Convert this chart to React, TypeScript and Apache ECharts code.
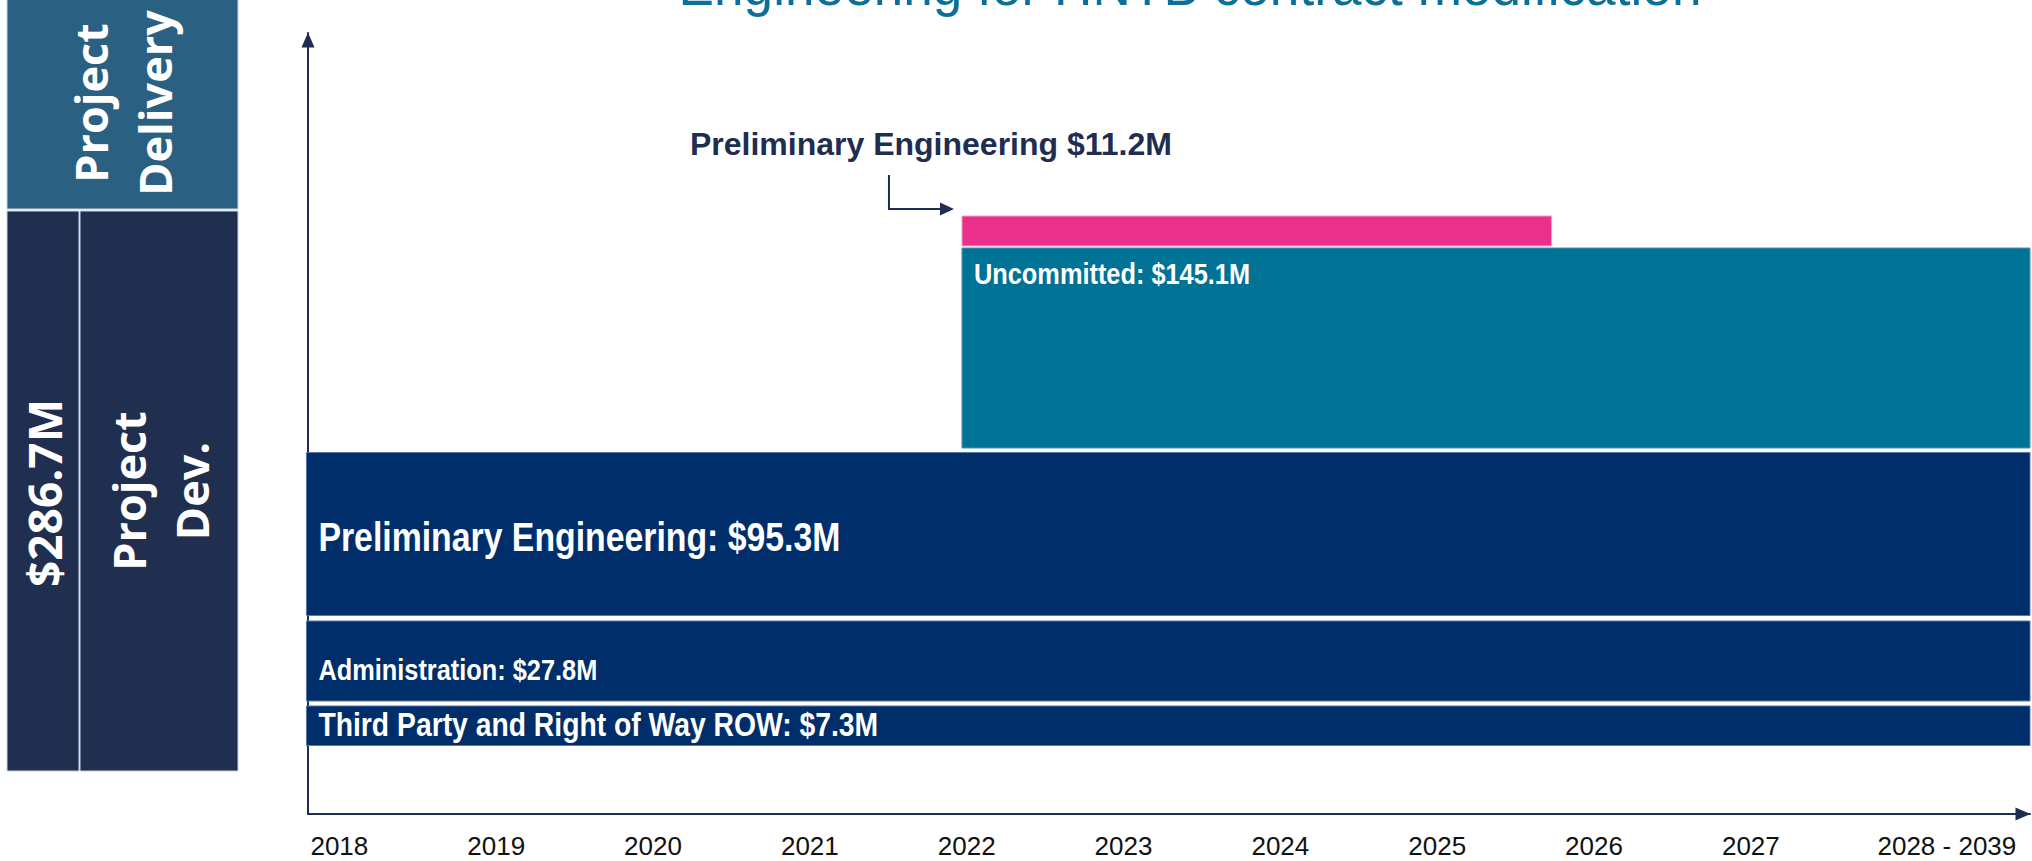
import React, { useEffect, useRef } from "react";
import * as echarts from "echarts";

// ---- Data ----
const yearLabels = ["2018", "2019", "2020", "2021", "2022", "2023", "2024", "2025", "2026", "2027", "2028 - 2039"];
const yearLabelValues = [2018, 2019, 2020, 2021, 2022, 2023, 2024, 2025, 2026, 2027, 2028.25];

const barNames = [
  "Third Party and Right of Way ROW",
  "Administration",
  "Preliminary Engineering",
  "Uncommitted",
  "Preliminary Engineering",
];
const barAmounts = [7.3, 27.8, 95.3, 145.1, 11.2]; // $M
const barStartYear = [2017.79, 2017.79, 2017.79, 2021.97, 2021.97];
const barEndYear = [2028.78, 2028.78, 2028.78, 2028.78, 2025.73];
const barLaneLow = [8.77, 14.47, 25.42, 46.86, 72.73];
const barLaneHigh = [13.83, 24.71, 46.29, 72.47, 76.57];

// ---- Styles ----
const barColors = ["#002e6b", "#002e6b", "#002e6b", "#007296", "#e9318c"];
const barStrokes = ["#5a77a6", "#5a77a6", "#5a77a6", "#4d97b4", "#f3a6c9"];
const labelStyles: any[] = [
  { size: 33.5, mode: "center", dy: -1 },
  { size: 30, mode: "center", dy: 8.5 },
  { size: 40, mode: "center", dy: 2.5 },
  { size: 30, mode: "top", dy: 26 },
  { size: 32, mode: "annotation", dy: 0 },
];
const NAVY = "#1f2d50";
const NARROW = 0.845;

export default function App() {
  const ref = useRef<HTMLDivElement>(null);

  useEffect(() => {
    if (!ref.current) return;
    const chart = echarts.init(ref.current, null, { renderer: "svg" });

    const data = barNames.map((_, i) => [barStartYear[i], barEndYear[i], barLaneLow[i], barLaneHigh[i]]);

    const renderItem = (params: any, api: any) => {
      const i = params.dataIndex;
      const tl = api.coord([api.value(0), api.value(3)]);
      const br = api.coord([api.value(1), api.value(2)]);
      const x = tl[0];
      const y = tl[1];
      const w = br[0] - tl[0];
      const h = br[1] - tl[1];
      const children: any[] = [
        {
          type: "rect",
          shape: { x, y, width: w, height: h },
          style: { fill: barColors[i], stroke: barStrokes[i], lineWidth: 1 },
        },
      ];
      const ls = labelStyles[i];
      if (ls.mode === "annotation") {
        children.push({
          type: "text",
          x: x - 272,
          y: y - 72,
          style: {
            text: `${barNames[i]} $${barAmounts[i]}M`,
            fill: NAVY,
            font: `bold ${ls.size}px "Liberation Sans", Arial, sans-serif`,
            align: "left",
            verticalAlign: "middle",
          },
        });
        children.push({
          type: "polyline",
          shape: { points: [[x - 73, y - 41], [x - 73, y - 7], [x - 20, y - 7]] },
          style: { stroke: NAVY, lineWidth: 2, fill: "none" },
        });
        children.push({
          type: "polygon",
          shape: { points: [[x - 22, y - 13.5], [x - 8, y - 7], [x - 22, y - 0.5]] },
          style: { fill: NAVY },
        });
      } else {
        const text = `${barNames[i]}: $${barAmounts[i]}M`;
        const ty = ls.mode === "top" ? y + ls.dy : y + h / 2 + ls.dy;
        children.push({
          type: "text",
          x: x + 12,
          y: ty,
          scaleX: NARROW,
          style: {
            text,
            fill: "#ffffff",
            font: `bold ${ls.size}px "Liberation Sans", Arial, sans-serif`,
            align: "left",
            verticalAlign: "middle",
          },
        });
      }
      return { type: "group", children };
    };

    const axisLine = {
      show: true,
      lineStyle: { color: NAVY, width: 2 },
      symbol: ["none", "triangle"],
      symbolSize: [13, 15],
      symbolOffset: [0, -7],
    };

    const option: any = {
      animation: false,
      backgroundColor: "#ffffff",
      grid: { left: 308, right: 2, top: 33, bottom: 47 },
      xAxis: {
        type: "value",
        min: 2017.8,
        max: 2028.78,
        axisLine,
        axisTick: { show: false },
        splitLine: { show: false },
        axisLabel: {
          customValues: yearLabelValues,
          formatter: (v: number) => {
            const idx = yearLabelValues.findIndex((t) => Math.abs(t - v) < 1e-6);
            return idx >= 0 ? yearLabels[idx] : "";
          },
          color: "#111111",
          fontSize: 26,
          fontFamily: '"Liberation Sans", Arial, sans-serif',
          margin: 19,
        },
      },
      yAxis: {
        type: "value",
        min: 0,
        max: 100,
        axisLine,
        axisTick: { show: false },
        splitLine: { show: false },
        axisLabel: { show: false },
      },
      series: [
        {
          type: "custom",
          renderItem,
          data,
          encode: { x: [0, 1], y: [2, 3] },
          z: 5,
        },
      ],
      graphic: [
        {
          type: "rect",
          shape: { x: 7, y: -2, width: 231, height: 211 },
          style: { fill: "#2a6182", stroke: "#c8d2dc", lineWidth: 1 },
        },
        {
          type: "rect",
          shape: { x: 7, y: 211, width: 72, height: 560 },
          style: { fill: "#202e4f", stroke: "#c8d2dc", lineWidth: 1 },
        },
        {
          type: "rect",
          shape: { x: 80, y: 211, width: 158, height: 560 },
          style: { fill: "#202e4f", stroke: "#c8d2dc", lineWidth: 1 },
        },
        {
          type: "text",
          x: 122,
          y: 103,
          rotation: Math.PI / 2,
          style: {
            text: "Project\nDelivery",
            fill: "#ffffff",
            font: 'bold 45px "Open Sans", sans-serif',
            align: "center",
            verticalAlign: "middle",
            lineHeight: 64,
          },
        },
        {
          type: "text",
          x: 44,
          y: 493,
          rotation: Math.PI / 2,
          style: {
            text: "$286.7M",
            fill: "#ffffff",
            font: 'bold 46px "Open Sans", sans-serif',
            align: "center",
            verticalAlign: "middle",
          },
        },
        {
          type: "text",
          x: 160,
          y: 491,
          rotation: Math.PI / 2,
          style: {
            text: "Project\nDev.",
            fill: "#ffffff",
            font: 'bold 45px "Open Sans", sans-serif',
            align: "center",
            verticalAlign: "middle",
            lineHeight: 63,
          },
        },
        {
          type: "text",
          x: 1190,
          y: -14,
          scaleX: 0.95,
          style: {
            text: "Engineering for HNTB contract modification",
            fill: "#0b6f9a",
            font: '56px "Liberation Sans", Arial, sans-serif',
            align: "center",
            verticalAlign: "middle",
          },
        },
      ],
    };

    chart.setOption(option);
    return () => chart.dispose();
  }, []);

  return (
    <div
      ref={ref}
      style={{ position: "fixed", left: 0, top: 0, width: 2032, height: 861, background: "#ffffff" }}
    />
  );
}
